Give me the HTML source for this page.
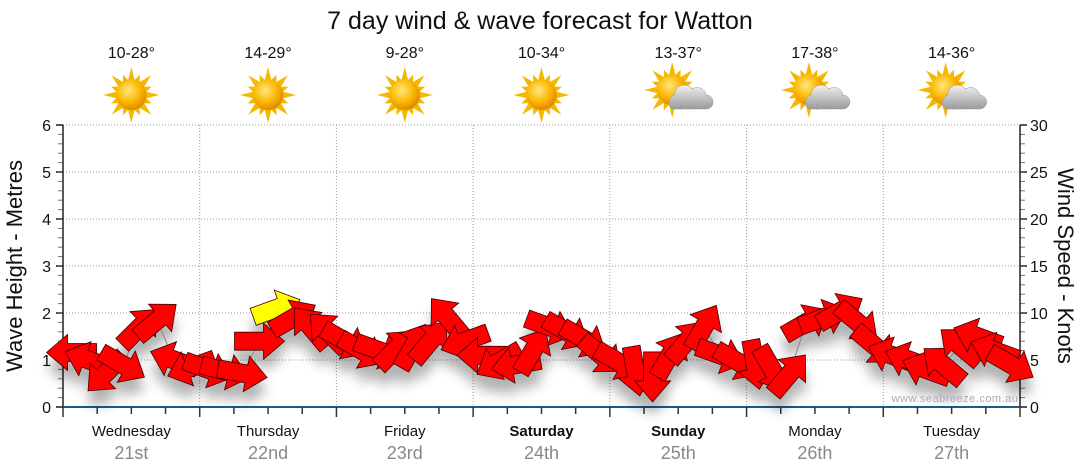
<!DOCTYPE html>
<html><head><meta charset="utf-8">
<style>
body{margin:0;background:#fff;width:1080px;height:475px;overflow:hidden;font-family:"Liberation Sans",sans-serif}
svg{display:block}
</style></head><body>
<svg id="c" width="1080" height="475">
<defs>
<radialGradient id="sun" cx="40%" cy="35%" r="65%"><stop offset="0" stop-color="#ffe680"/><stop offset="0.6" stop-color="#fbb800"/><stop offset="1" stop-color="#e08a00"/></radialGradient>
<linearGradient id="cloud" x1="0" y1="0" x2="0" y2="1"><stop offset="0" stop-color="#f2f2f2"/><stop offset="1" stop-color="#9a9a9a"/></linearGradient>
<filter id="sh" x="-50%" y="-50%" width="200%" height="200%"><feGaussianBlur stdDeviation="6"/></filter>
</defs>
<text x="540" y="29" text-anchor="middle" font-size="25" fill="#111">7 day wind &amp; wave forecast for Watton</text>
<g id="grid"></g>
<g id="icons"></g>
<g id="axes"></g>
<g id="shadows" filter="url(#sh)" opacity="0.3"></g>
<g id="marks"></g>
<text x="955" y="402" text-anchor="middle" font-size="11" fill="#aab" letter-spacing="0.5">www.seabreeze.com.au</text>
<text transform="translate(22,266) rotate(-90)" text-anchor="middle" font-size="22" fill="#111">Wave Height - Metres</text>
<text transform="translate(1058,266) rotate(90)" text-anchor="middle" font-size="22" fill="#111">Wind Speed - Knots</text>
</svg>
<script>
const days=["Wednesday","Thursday","Friday","Saturday","Sunday","Monday","Tuesday"];
const dates=["21st","22nd","23rd","24th","25th","26th","27th"];
const temps=["10-28°","14-29°","9-28°","10-34°","13-37°","17-38°","14-36°"];
const cloudy=[0,0,0,0,1,1,1];
const boldDays=[0,0,0,1,1,0,0];
const waveTicks=[0,1,2,3,4,5,6];
const windTicks=[0,5,10,15,20,25,30];
const windSpeed=[5.8,5.0,3.6,4.5,8.5,9.2,5.0,4.2, 4.0,3.8,3.6,7.0,10.5,9.5,8.5,8.0, 7.0,6.0,6.0,6.2,6.5,7.0,9.5,7.0, 5.5,4.8,4.5,6.0,8.5,8.0,7.2,5.5, 4.8,3.8,3.2,5.5,7.0,8.5,5.5,4.8, 4.5,4.0,3.5,9.0,9.5,10.2,9.0,6.5, 5.5,5.0,4.0,4.5,6.5,7.5,6.0,4.5];
const windDir=[180,200,135,30,-45,-40,200,160, 20,15,10,0,-20,-30,-130,-135, 30,30,20,-45,-60,-50,-130,160, 180,150,170,-60,20,30,30,40, 30,80,90,-60,-50,-60,20,30, 80,60,-50,-30,-20,-30,40,40, 200,200,200,-140,-140,200,200,30];
const gust=[0,0,0,0,0,0,0,0, 0,0,0,0,1,0,0,0];
const X0=63,X1=1020,Y0=407,Y1=125,NS="http://www.w3.org/2000/svg";
const dayW=(X1-X0)/7;
const xPos=i=>X0+(i+0.5)*(X1-X0)/windSpeed.length;
const yWave=v=>Y0-v*(Y0-Y1)/6;
const yWind=v=>Y0-v*(Y0-Y1)/30;
function el(t,a,p){const e=document.createElementNS(NS,t);for(const k in a)e.setAttribute(k,a[k]);document.getElementById(p).appendChild(e);return e;}
for(const t of waveTicks){if(t>0){const g=el('line',{x1:X0,x2:X1,y1:yWave(t),y2:yWave(t),stroke:'#999','stroke-dasharray':'1,2'},'grid');

}
const l=el('text',{x:X0-12,y:yWave(t)+6,'text-anchor':'end','font-size':16,fill:'#111'},'axes');l.textContent=t;


el('line',{x1:X0-7,x2:X0,y1:yWave(t),y2:yWave(t),stroke:'#555','stroke-width':2},'axes');}
for(let v=0.2;v<6;v+=0.2){el('line',{x1:X0-5,x2:X0,y1:yWave(v),y2:yWave(v),stroke:'#777'},'axes');}
for(const t of windTicks){const l=el('text',{x:X1+10,y:yWind(t)+6,'font-size':16,fill:'#111'},'axes');l.textContent=t;


el('line',{x1:X1,x2:X1+7,y1:yWind(t),y2:yWind(t),stroke:'#555','stroke-width':2},'axes');}
for(let v=1;v<30;v++){el('line',{x1:X1,x2:X1+5,y1:yWind(v),y2:yWind(v),stroke:'#777'},'axes');}
el('line',{x1:X0,x2:X0,y1:Y1,y2:Y0,stroke:'#222','stroke-width':1.5},'axes');
el('line',{x1:X1,x2:X1,y1:Y1,y2:Y0,stroke:'#222','stroke-width':1.5},'axes');
el('line',{x1:X0,x2:X1,y1:Y0,y2:Y0,stroke:'#1a5a8a','stroke-width':2},'axes');
for(let q=0;q<=28;q++){const x=X0+q*dayW/4;el('line',{x1:x,x2:x,y1:Y0,y2:Y0+(q%4==0?10:7),stroke:'#333','stroke-width':1.5},'axes');}
days.forEach((d,i)=>{const cx=X0+(i+0.5)*dayW;
if(i>0){const g=el('line',{x1:X0+i*dayW,x2:X0+i*dayW,y1:Y1,y2:Y0,stroke:'#999','stroke-dasharray':'1,2'},'grid');

}
const t=el('text',{x:cx,y:436,'text-anchor':'middle','font-size':15,fill:'#111','font-weight':boldDays[i]?'bold':'normal'},'axes');t.textContent=d;


const dt=el('text',{x:cx,y:459,'text-anchor':'middle','font-size':18,fill:'#888'},'axes');dt.textContent=dates[i];


const tp=el('text',{x:cx,y:58,'text-anchor':'middle','font-size':16,fill:'#111'},'icons');tp.textContent=temps[i];


const g=el('g',{transform:`translate(${cx},95)`},'icons');


const sx=cloudy[i]?-6:0,sy=cloudy[i]?-5:0;
for(let k=0;k<16;k++){const a=k*Math.PI/8,r=k%2?22:28;const p=document.createElementNS(NS,'polygon');
const c=Math.cos(a),s=Math.sin(a),pc=-s,ps=c;
p.setAttribute('points',`${sx+c*r},${sy+s*r} ${sx+c*12+pc*4},${sy+s*12+ps*4} ${sx+c*12-pc*4},${sy+s*12-ps*4}`);p.setAttribute('fill','#f5b800');g.appendChild(p);}
const sc=document.createElementNS(NS,'circle');sc.setAttribute('cx',sx);sc.setAttribute('cy',sy);sc.setAttribute('r',15);sc.setAttribute('fill','url(#sun)');g.appendChild(sc);
if(cloudy[i]){const cp=document.createElementNS(NS,'path');cp.setAttribute('d','M-6,14 a8,8 0 0 1 2,-14 a10,10 0 0 1 18,-6 a9,9 0 0 1 14,6 a7,7 0 0 1 0,14 z');cp.setAttribute('fill','url(#cloud)');cp.setAttribute('stroke','#999');cp.setAttribute('stroke-width','0.5');g.appendChild(cp);}
});
let d='';windSpeed.forEach((v,i)=>{d+=(i?'L':'M')+xPos(i)+','+yWind(v)});
const ln=el('path',{d:d,fill:'none',stroke:'#888','stroke-width':1},'marks');


const arrowPts="-25,-9 4,-9 4,-18 25,0 4,18 4,9 -25,9";
windSpeed.forEach((v,i)=>{
const x=xPos(i),y=yWind(v),a=windDir[i];
el('polygon',{points:arrowPts,transform:`translate(${x},${y+14}) rotate(${a})`,fill:'#000'},'shadows');
const p=el('polygon',{points:arrowPts,transform:`translate(${x},${y}) rotate(${a})`,fill:gust[i]?'#ffff00':'#ff0000',stroke:'#400','stroke-width':0.8},'marks');


});
</script>
</body></html>
